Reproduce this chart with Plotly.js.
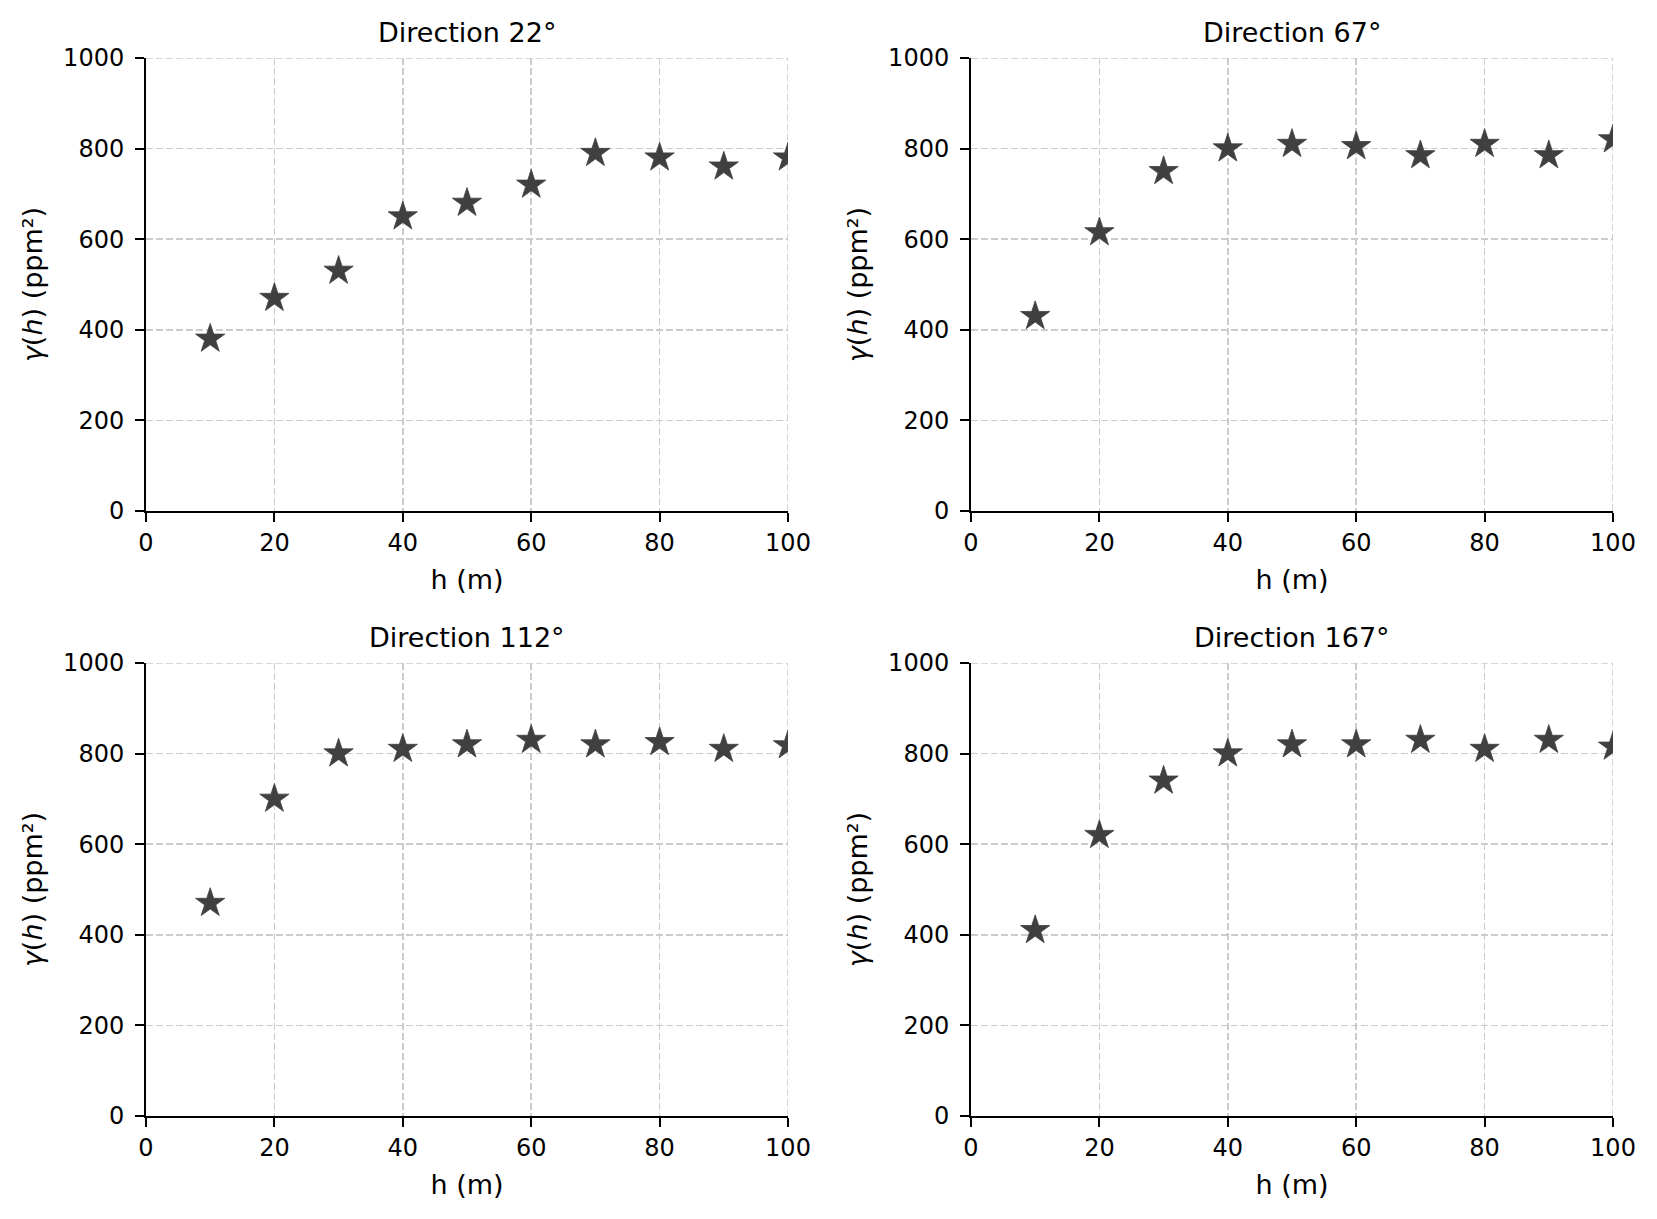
<!DOCTYPE html>
<html>
<head>
<meta charset="utf-8">
<script src="https://cdn.plot.ly/plotly-3.0.1.min.js"></script>
<style>html,body{margin:0;padding:0;background:#fff;}</style>
</head>
<body>
<div id="chart" style="width:1657px;height:1219px;"></div>
<script>
// Lag distances (m)
const lags = [10, 20, 30, 40, 50, 60, 70, 80, 90, 100];
// Semivariance values per direction (ppm²)
const gamma22  = [380, 470, 530, 650, 680, 720, 790, 780, 760, 780];
const gamma67  = [430, 615, 750, 800, 810, 805, 785, 810, 785, 820];
const gamma112 = [470, 700, 800, 810, 820, 830, 820, 825, 810, 818];
const gamma167 = [410, 620, 740, 800, 820, 820, 830, 810, 830, 815];
const panelTitles = ['Direction 22°', 'Direction 67°', 'Direction 112°', 'Direction 167°'];
const xTickVals = [0, 20, 40, 60, 80, 100];
const yTickVals = [0, 200, 400, 600, 800, 1000];

const W = 1657, H = 1219;
const FONT = 'DejaVu Sans, sans-serif';
const series = [gamma22, gamma67, gamma112, gamma167];
const GRID = '#cccccc';
const GDASH = '7px,3px';

// pixel boxes [left, right, top, bottom]
const boxes = [
  [146, 788, 58, 511],
  [971, 1613, 58, 511],
  [146, 788, 663, 1116],
  [971, 1613, 663, 1116]
];
const titleY = [32, 32, 637, 637];

const traces = series.map((vals, i) => ({
  type: 'scatter',
  mode: 'markers',
  x: lags,
  y: vals,
  xaxis: i === 0 ? 'x' : 'x' + (i + 1),
  yaxis: i === 0 ? 'y' : 'y' + (i + 1),
  marker: {symbol: 'star', size: 22, color: '#404040', line: {width: 0.8, color: '#404040'}},
  cliponaxis: true,
  showlegend: false,
  hoverinfo: 'x+y'
}));

const layout = {
  width: W, height: H,
  autosize: false,
  margin: {l: 0, r: 0, t: 0, b: 0},
  paper_bgcolor: '#ffffff',
  plot_bgcolor: '#ffffff',
  font: {family: FONT, color: '#000000', size: 24},
  showlegend: false,
  annotations: [],
  shapes: []
};

const gridCommon = {
  showgrid: true,
  gridcolor: GRID,
  gridwidth: 1.6,
  griddash: GDASH,
  zeroline: false,
  showline: true,
  linecolor: '#000000',
  linewidth: 2,
  mirror: false,
  ticks: 'outside',
  ticklen: 9,
  tickwidth: 2,
  tickcolor: '#000000',
  tickfont: {family: FONT, size: 24, color: '#000000'}
};

boxes.forEach((b, i) => {
  const sfx = i === 0 ? '' : String(i + 1);
  const xd = [b[0] / W, b[1] / W];
  const yd = [(H - b[3]) / H, (H - b[2]) / H];
  const xMax = xTickVals[xTickVals.length - 1];
  const yMax = yTickVals[yTickVals.length - 1];
  layout['xaxis' + sfx] = Object.assign({}, gridCommon, {
    domain: xd,
    anchor: 'y' + sfx,
    range: [xTickVals[0], xMax],
    tickmode: 'array',
    tickvals: xTickVals,
    ticktext: xTickVals.map(String),
    ticklabelstandoff: 0,
    title: {text: 'h (m)', font: {family: FONT, size: 27, color: '#000000'}, standoff: 14}
  });
  layout['yaxis' + sfx] = Object.assign({}, gridCommon, {
    domain: yd,
    anchor: 'x' + sfx,
    range: [yTickVals[0], yMax],
    tickmode: 'array',
    tickvals: yTickVals,
    ticktext: yTickVals.map(String),
    ticklabelstandoff: 6,
    title: {text: '<i>γ</i>(<i>h</i>) (ppm²)', font: {family: FONT, size: 27, color: '#000000'}, standoff: 13}
  });
  // grid lines at the far edges (matplotlib draws them, plotly omits them)
  layout.shapes.push({
    type: 'line', layer: 'below',
    xref: 'x' + sfx, yref: 'y' + sfx,
    x0: xMax, x1: xMax, y0: yTickVals[0], y1: yMax,
    line: {color: GRID, width: 1.6, dash: GDASH}
  });
  layout.shapes.push({
    type: 'line', layer: 'below',
    xref: 'x' + sfx, yref: 'y' + sfx,
    x0: xTickVals[0], x1: xMax, y0: yMax, y1: yMax,
    line: {color: GRID, width: 1.6, dash: GDASH}
  });
  layout.annotations.push({
    text: panelTitles[i],
    xref: 'paper', yref: 'paper',
    x: (b[0] + b[1]) / 2 / W,
    y: (H - titleY[i]) / H,
    xanchor: 'center', yanchor: 'middle',
    showarrow: false,
    font: {family: FONT, size: 27, color: '#000000'}
  });
});

Plotly.newPlot('chart', traces, layout, {displayModeBar: false, staticPlot: true});
</script>
</body>
</html>
